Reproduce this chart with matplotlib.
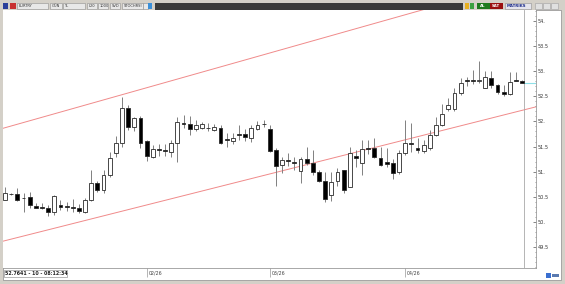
import numpy as np
import matplotlib
matplotlib.use('Agg')
import matplotlib.pyplot as plt
import matplotlib.transforms as mtransforms
from matplotlib.patches import Rectangle
from matplotlib.ticker import MultipleLocator, FixedFormatter

# daily EURTRY candles
opens = [50.44, 50.55, 50.56, 50.47, 50.49, 50.33, 50.31, 50.28, 50.20, 50.34,
         50.31, 50.31, 50.28, 50.20, 50.44, 50.77, 50.64, 50.94, 51.37, 51.57,
         52.26, 51.88, 52.06, 51.62, 51.30, 51.43, 51.42, 51.40, 51.57, 51.97,
         51.94, 51.84, 51.86, 51.86, 51.83, 51.86, 51.63, 51.62, 51.75, 51.74,
         51.67, 51.85, 51.94, 51.84, 51.43, 51.13, 51.22, 51.20, 51.02, 51.25,
         51.18, 51.00, 50.82, 50.54, 50.82, 51.04, 50.70, 51.31, 51.17, 51.48,
         51.47, 51.27, 51.19, 51.17, 50.99, 51.37, 51.55, 51.47, 51.41, 51.48,
         51.73, 51.93, 52.25, 52.25, 52.56, 52.81, 52.82, 52.80, 52.67, 52.87,
         52.72, 52.58, 52.54, 52.82, 52.80]
highs = [50.69, 50.57, 50.67, 50.58, 50.59, 50.38, 50.38, 50.35, 50.54, 50.44,
         50.40, 50.45, 50.37, 50.47, 51.04, 50.82, 51.03, 51.40, 51.71, 52.49,
         52.33, 52.09, 52.11, 51.63, 51.53, 51.55, 51.56, 51.63, 52.09, 52.13,
         52.11, 52.02, 51.98, 51.96, 51.94, 51.93, 51.76, 51.76, 51.93, 51.84,
         51.93, 52.00, 52.03, 51.93, 51.47, 51.30, 51.37, 51.30, 51.30, 51.50,
         51.44, 51.04, 51.00, 51.00, 51.08, 51.04, 51.49, 51.44, 51.64, 51.63,
         51.66, 51.50, 51.48, 51.26, 51.43, 52.03, 51.96, 51.66, 51.63, 51.83,
         52.09, 52.34, 52.46, 52.66, 52.86, 52.89, 53.02, 53.20, 52.99, 52.99,
         52.75, 52.72, 52.98, 52.97, 52.82]
lows = [50.44, 50.53, 50.41, 50.21, 50.28, 50.28, 50.27, 50.12, 50.14, 50.24,
        50.22, 50.21, 50.19, 50.19, 50.41, 50.59, 50.57, 50.89, 51.30, 51.49,
        51.83, 51.80, 51.48, 51.22, 51.27, 51.32, 51.31, 51.30, 51.20, 51.86,
        51.73, 51.80, 51.84, 51.80, 51.80, 51.56, 51.50, 51.55, 51.63, 51.62,
        51.59, 51.83, 51.89, 51.40, 50.72, 50.97, 51.12, 51.03, 50.78, 51.13,
        50.94, 50.79, 50.39, 50.41, 50.72, 50.58, 50.69, 51.10, 50.94, 51.35,
        51.27, 51.12, 51.10, 50.86, 50.96, 51.33, 51.40, 51.37, 51.37, 51.44,
        51.70, 51.90, 52.21, 52.20, 52.52, 52.71, 52.74, 52.76, 52.66, 52.66,
        52.55, 52.50, 52.52, 52.80, 52.76]
closes = [50.58, 50.55, 50.44, 50.47, 50.34, 50.29, 50.28, 50.20, 50.51, 50.31,
          50.31, 50.28, 50.23, 50.43, 50.77, 50.64, 50.94, 51.27, 51.57, 52.26,
          51.89, 52.06, 51.57, 51.31, 51.45, 51.43, 51.41, 51.57, 51.98, 51.95,
          51.84, 51.93, 51.94, 51.86, 51.88, 51.58, 51.63, 51.66, 51.73, 51.68,
          51.86, 51.93, 51.94, 51.42, 51.12, 51.23, 51.22, 51.17, 51.25, 51.17,
          51.00, 50.82, 50.45, 50.80, 51.00, 50.63, 51.37, 51.27, 51.45, 51.45,
          51.30, 51.14, 51.15, 50.97, 51.37, 51.57, 51.55, 51.43, 51.53, 51.73,
          51.92, 52.14, 52.33, 52.56, 52.76, 52.81, 52.80, 52.82, 52.89, 52.72,
          52.59, 52.54, 52.78, 52.80, 52.76]

date_idx = [23, 43, 65]
date_labels = ['02/26', '03/26', '04/26']
y_ticks = [49.5, 50.0, 50.5, 51.0, 51.5, 52.0, 52.5, 53.0, 53.5, 54.0]
y_labels = ['49.5', '50.', '50.5', '51.', '51.5', '52.', '52.5', '53.', '53.5', '54.']

# trend channel drawn on the chart
upper_x = [-0.4, 86.3]
upper_y = [51.86, 54.85]
lower_x = [-0.4, 86.3]
lower_y = [49.62, 52.29]
last_price = 52.7641
cursor_idx = 84.3

W, H = 565, 284
fig = plt.figure(figsize=(W / 100, H / 100), dpi=100, facecolor='#d4d0c8')


def frect(x, y, w, h, fc, ec='none', lw=0.5, z=0):
    # rectangle given in screen pixels (top-left origin)
    fig.add_artist(Rectangle((x / W, 1 - (y + h) / H), w / W, h / H,
                             transform=fig.transFigure, fc=fc, ec=ec, lw=lw, zorder=z))


def ftext(x, y, s, **kw):
    fig.text(x / W, 1 - y / H, s, **kw)


# window chrome
frect(3, 10, 558, 270, 'white', ec='#8c8c8c')
frect(155, 2.5, 308, 7, '#3a3a3a')
tool_items = [(17, 31, 'EURTRY'), (50, 12, 'GÜN'), (63, 22, 'TL'), (87, 10, 'L20'),
              (98, 10, '1000'), (110, 10, 'SVD'), (122, 21, 'STOCHRSI')]
for x, w, s in tool_items:
    frect(x, 3, w, 6, '#e8e8e8', ec='#909090', lw=0.4)
    ftext(x + 1.5, 6.2, s, fontsize=2.6, va='center', color='#333')
frect(3, 3, 5, 6, '#2b3f9a')
frect(10, 3, 6, 6, '#c83030')
frect(143, 3, 5, 6, '#e8e8e8', ec='#909090', lw=0.4)
frect(148, 3, 4, 6, '#3a8fd8')
frect(465, 3, 4, 6, '#e8b020')
frect(470, 3, 4, 6, '#3aa040')
frect(477, 3, 13, 6, '#1f7a1f')
ftext(480, 6.2, 'AL', fontsize=2.8, va='center', color='white', weight='bold')
frect(490, 3, 13, 6, '#9a1010')
ftext(492, 6.2, 'SAT', fontsize=2.8, va='center', color='white', weight='bold')
frect(505, 3, 26, 6, '#e4e4ec', ec='#909090', lw=0.4)
ftext(507, 6.2, 'MATRIKS', fontsize=2.8, va='center', color='#1a2a8a', weight='bold')
for x in [535, 543, 551]:
    frect(x, 3, 7, 6, '#e0e0e0', ec='#a0a0a0', lw=0.4)

ax = fig.add_axes([3 / W, 1 - 268 / H, (535.7 - 3) / W, (268 - 10) / H])
ax.set_facecolor('white')
ax.set_xlim(-0.33, 86.2)
ax.set_ylim(49.09, 54.21)

x = np.arange(len(opens))
o = np.array(opens)
c = np.array(closes)
up = c > o
bottoms = np.minimum(o, c)
heights = np.maximum(np.abs(c - o), 0.012)
faces = np.where(up, 'white', 'black')

ax.vlines(x, lows, highs, color='#808080', lw=0.7, zorder=2)
ax.bar(x, heights, bottom=bottoms, width=0.62, color=faces,
       edgecolor='#2a2a2a', linewidth=0.6, zorder=3)

ax.plot(upper_x, upper_y, color='#f08a8a', lw=0.7, zorder=1)
ax.plot(lower_x, lower_y, color='#f08a8a', lw=0.7, zorder=1)
ax.axvline(cursor_idx, color='#a8a8a8', lw=0.6, zorder=1)
ax.plot([cursor_idx, 86.2], [last_price, last_price], color='#8ee0e8', lw=0.8, zorder=1)

ax.yaxis.tick_right()
ax.set_yticks(y_ticks)
ax.yaxis.set_major_formatter(FixedFormatter(y_labels))
ax.yaxis.set_minor_locator(MultipleLocator(0.1))
ax.tick_params(axis='y', which='major', direction='in', length=2, width=0.5,
               color='#555555', labelsize=3.6, pad=1.5, labelcolor='#333333')
ax.tick_params(axis='y', which='minor', direction='in', length=0.8, width=0.5,
               color='#777777')

ax.set_xticks(date_idx)
ax.set_xticklabels([])
ax.tick_params(axis='x', direction='out', length=6.5, width=0.5, color='#999999')
trans = mtransforms.blended_transform_factory(ax.transData, ax.transAxes)
off = mtransforms.ScaledTranslation(2 / 100, -5 / 100, fig.dpi_scale_trans)
for i, lab in zip(date_idx, date_labels):
    ax.text(i, 0, lab, transform=trans + off, ha='left', va='center',
            fontsize=3.4, color='#444444')

for side in ['top', 'left']:
    ax.spines[side].set_visible(False)
for side in ['right', 'bottom']:
    ax.spines[side].set_color('#9a9a9a')
    ax.spines[side].set_linewidth(0.6)

# status box in the lower strip
frect(3.5, 270, 63, 6.5, 'white', ec='#9a9a9a', lw=0.5, z=5)
ftext(5, 273.4, '52.7641 - 10 - 08:12:34', fontsize=3.4, va='center',
      color='#222', weight='bold', zorder=6)
frect(546, 273, 5, 5, '#3a6fd0', z=5)
frect(552, 274, 7, 3, '#5a7ab0', z=5)

fig.savefig('out.png', dpi=100, facecolor=fig.get_facecolor())
